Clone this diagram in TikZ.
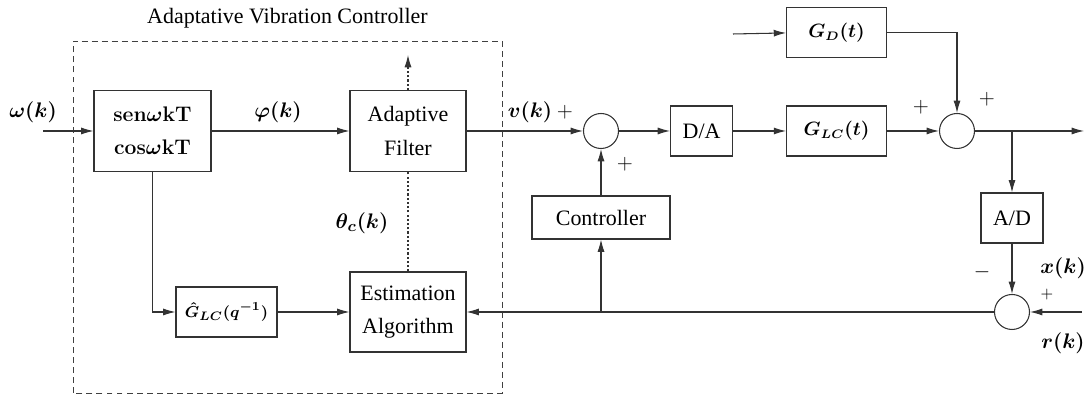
\documentclass[tikz,border=0pt]{standalone}
\usepackage[no-math]{fontspec}
\setmainfont{Liberation Serif}
\usetikzlibrary{arrows.meta, positioning}

\newcommand{\sincoslabel}{\mbox{$\mathbf{sen}\omega\mathbf{kT}$}\\\mbox{$\mathbf{cos}\omega\mathbf{kT}$}}

\begin{document}
\begin{tikzpicture}[
    % Styles
    block/.style={draw=black!80, semithick, align=center, inner sep=2pt, font=\fontsize{12.5}{18.8}\selectfont},
    gblock/.style={block, minimum width=2cm, minimum height=1cm, font=\fontsize{10.5}{12}\selectfont\boldmath},
    mblock/.style={block, font=\fontsize{12.5}{18.8}\selectfont\boldmath},
    sumnode/.style={draw=black!80, semithick, circle, minimum size=0.7cm, inner sep=0pt},
    sig/.style={font=\fontsize{12.5}{15}\selectfont\boldmath},
    sgn/.style={font=\fontsize{12}{14}\selectfont},
    wire/.style={semithick, black!80},
    arrow/.style={-{Latex[length=7pt, width=4pt]}, semithick, black!80}
]
    \useasboundingbox (0,0) rectangle (21.78,7.92);

    % 1. ADAPTIVE VIBRATION CONTROLLER
    \draw[black!75, dash pattern=on 3.4pt off 2.3pt] (1.46,0.06) rectangle (10.04,7.10);
    \node[block, draw=none] (avc_title) at (5.75,7.56) {Adaptative Vibration Controller};

    \node[mblock, minimum width=2.34cm, minimum height=1.62cm] (sincos) at (3.05,5.30) {\sincoslabel};
    \node[block, minimum width=2.32cm, minimum height=1.62cm] (adapt_filter) at (8.16,5.30) {Adaptive\\Filter};
    % smaller text here, the box is narrow
    \node[gblock, minimum width=2.02cm, font=\fontsize{9.5}{11}\selectfont\boldmath] (ghat) at (4.53,1.68) {$\hat{G}_{LC}(q^{-1})$};
    \node[block, minimum width=2.32cm, minimum height=1.6cm] (estim) at (8.16,1.68) {Estimation\\Algorithm};

    % 2. PLANT SIDE
    \node[sumnode] (sum_u) at (12.02,5.30) {};
    \node[block, minimum width=1.24cm, minimum height=1cm, right=1.02cm of sum_u] (dac) {D/A};
    \node[gblock, right=1.06cm of dac] (glc) {$G_{LC}(t)$};
    \node[gblock, above=0.94cm of glc] (gd) {$G_D(t)$};
    \node[sumnode] (sum_y) at (19.14,5.30) {};
    \node[block, minimum width=2.76cm, minimum height=0.86cm] (ctrl) at (12.02,3.57) {Controller};
    \node[block, minimum width=1.24cm, minimum height=1cm] (adc) at (20.24,3.56) {A/D};
    \node[sumnode] (sum_e) at (20.24,1.68) {};

    % 3. SIGNAL LABELS
    \node[sig] (lbl_omega) at (0.66,5.68) {$\omega(k)$};
    \node[sig] (lbl_phi) at (5.56,5.68) {$\varphi(k)$};
    \node[sig] (lbl_theta) at (7.24,3.46) {$\theta_c(k)$};
    \node[sig] (lbl_v) at (10.60,5.68) {$v(k)$};
    \node[sig] (lbl_x) at (21.26,2.56) {$x(k)$};
    \node[sig] (lbl_r) at (21.26,1.06) {$r(k)$};

    \node[sgn] (sgn_v) at (11.30,5.68) {$+$};
    \node[sgn] (sgn_c) at (12.50,4.64) {$+$};
    \node[sgn] (sgn_glc) at (18.42,5.78) {$+$};
    \node[sgn] (sgn_gd) at (19.74,5.94) {$+$};
    \node[sgn] (sgn_x) at (19.64,2.48) {$-$};
    \node[sgn, font=\fontsize{9}{10}\selectfont] (sgn_r) at (20.94,2.02) {$+$};

    % free ends of the wires
    \coordinate (w_in) at (0.86,5.30);
    \coordinate (d_in) at (14.66,7.24);
    \coordinate (r_in) at (21.64,1.68);
    \coordinate (y_out) at (21.68,5.30);
    \coordinate (theta_out) at (8.16,6.82);
    \coordinate (y_tap) at (adc |- sum_y);
    \coordinate (e_tap) at (ctrl |- sum_e);

    % 4. ARROWS
    \draw[arrow] (w_in) -- (sincos.west);
    \draw[arrow] (sincos.east) -- (adapt_filter.west);
    \draw[arrow] (sincos.south) |- (ghat.west);
    \draw[arrow] (ghat.east) -- (estim.west);
    \draw[wire, dash pattern=on 1.2pt off 1.2pt] (estim.north) -- (adapt_filter.south);
    \draw[arrow, dash pattern=on 1.2pt off 1.2pt] (adapt_filter.north) -- (theta_out);

    \draw[arrow] (adapt_filter.east) -- (sum_u.west);
    \draw[arrow] (sum_u.east) -- (dac.west);
    \draw[arrow] (dac.east) -- (glc.west);
    \draw[arrow] (glc.east) -- (sum_y.west);
    \draw[arrow] (d_in) -- (gd.west);
    \draw[arrow] (gd.east) -| (sum_y.north);
    \draw[arrow] (sum_y.east) -- (y_out);
    \draw[arrow] (y_tap) -- (adc.north);
    \draw[arrow] (adc.south) -- (sum_e.north);
    \draw[arrow] (r_in) -- (sum_e.east);

    % Error back to the estimator and the controller
    \draw[arrow] (sum_e.west) -- (estim.east);
    \draw[arrow] (e_tap) -- (ctrl.south);
    \draw[arrow] (ctrl.north) -- (sum_u.south);

\end{tikzpicture}
\end{document}
